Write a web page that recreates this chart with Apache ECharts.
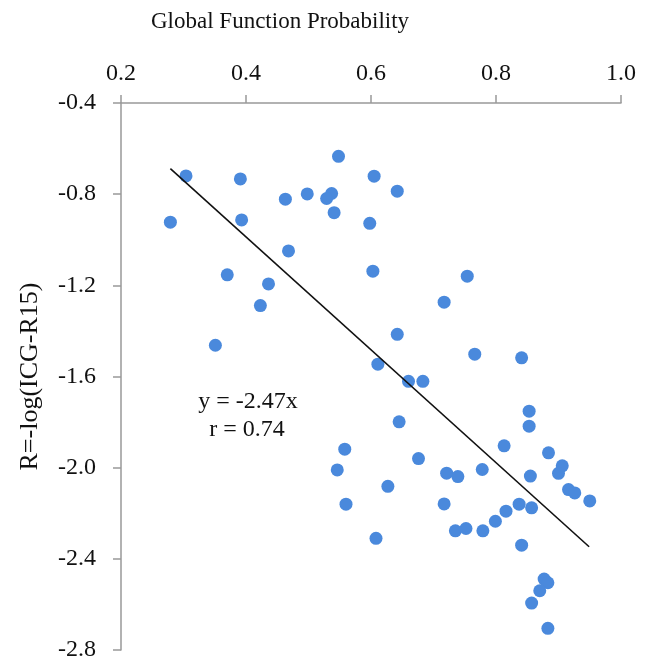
<!DOCTYPE html>
<html>
<head>
<meta charset="utf-8">
<script src="https://cdn.jsdelivr.net/npm/echarts@6/dist/echarts.min.js"></script>
<style>
html,body{margin:0;padding:0;background:#fff;}
#chart{width:653px;height:666px;}
</style>
</head>
<body>
<div id="chart"></div>
<script>
// Global Function Probability (x) vs R=-log(ICG-R15) (y)
var xValues = [0.279,0.304,0.391,0.393,0.370,0.351,0.423,0.436,0.468,0.463,0.498,0.537,0.529,0.541,0.548,0.605,0.598,0.642,0.603,0.717,0.754,0.642,0.766,0.841,0.611,0.660,0.683,0.853,0.645,0.853,0.813,0.884,0.676,0.558,0.546,0.560,0.608,0.627,0.721,0.739,0.778,0.855,0.906,0.900,0.916,0.926,0.950,0.717,0.837,0.857,0.816,0.799,0.735,0.752,0.779,0.841,0.877,0.883,0.870,0.857,0.883];
var yValues = [-0.923,-0.720,-0.733,-0.913,-1.154,-1.463,-1.289,-1.194,-1.049,-0.822,-0.799,-0.797,-0.819,-0.881,-0.634,-0.721,-0.928,-0.787,-1.138,-1.274,-1.160,-1.415,-1.502,-1.518,-1.546,-1.621,-1.621,-1.752,-1.799,-1.818,-1.904,-1.935,-1.960,-1.919,-2.010,-2.160,-2.310,-2.082,-2.024,-2.039,-2.008,-2.037,-1.992,-2.025,-2.096,-2.111,-2.146,-2.159,-2.160,-2.176,-2.191,-2.235,-2.277,-2.267,-2.277,-2.340,-2.489,-2.505,-2.540,-2.594,-2.705];
var trendX = [0.279, 0.949];
var trendY = [-0.688, -2.347];
var xTicks = [0.2, 0.4, 0.6, 0.8, 1.0];
var yTicks = [-0.4, -0.8, -1.2, -1.6, -2.0, -2.4, -2.8];
var xTitle = 'Global Function Probability';
var yTitle = 'R=-log(ICG-R15)';
var eqText = 'y = -2.47x';
var rText = 'r = 0.74';

var points = xValues.map(function(x, i){ return [x, yValues[i]]; });
var trend = trendX.map(function(x, i){ return [x, trendY[i]]; });

var chart = echarts.init(document.getElementById('chart'), null, {renderer:'canvas'});
var font = 'Liberation Serif';
var axisColor = '#999999';
chart.setOption({
  animation: false,
  backgroundColor: '#fff',
  title: {
    text: xTitle,
    left: 146, top: 5,
    textStyle: {fontFamily: font, fontSize: 23, fontWeight: 'normal', color: '#111'}
  },
  grid: {left: 121, right: 32, top: 103, bottom: 16, containLabel: false},
  xAxis: {
    type: 'value', position: 'top',
    min: xTicks[0], max: xTicks[xTicks.length-1], interval: 0.2,
    axisLine: {show: true, lineStyle: {color: axisColor, width: 1.5}},
    axisTick: {show: true, length: 8, lineStyle: {color: axisColor, width: 1.5}},
    splitLine: {show: false},
    axisLabel: {margin: 17, fontFamily: font, fontSize: 24, color: '#111',
      formatter: function(v){ return v.toFixed(1); }}
  },
  yAxis: {
    type: 'value',
    min: yTicks[yTicks.length-1], max: yTicks[0], interval: 0.4,
    name: yTitle, nameLocation: 'middle', nameRotate: 90, nameGap: 78,
    nameTextStyle: {fontFamily: font, fontSize: 26, color: '#111'},
    axisLine: {show: true, lineStyle: {color: axisColor, width: 1.5}},
    axisTick: {show: true, length: 8, lineStyle: {color: axisColor, width: 1.5}},
    splitLine: {show: false},
    axisLabel: {margin: 25, fontFamily: font, fontSize: 24, color: '#111',
      formatter: function(v){ return v.toFixed(1); }}
  },
  series: [
    {
      type: 'scatter', data: points, symbol: 'circle', symbolSize: 13,
      itemStyle: {color: '#4a89dc', opacity: 1}
    },
    {
      type: 'line', data: trend, symbol: 'none',
      lineStyle: {color: '#111', width: 1.6}, z: 3
    }
  ],
  graphic: [
    {type: 'text', x: 248, y: 402, style: {text: eqText, font: '24px "Liberation Serif"', fill: '#111', align: 'center', verticalAlign: 'middle'}},
    {type: 'text', x: 247, y: 430, style: {text: rText, font: '24px "Liberation Serif"', fill: '#111', align: 'center', verticalAlign: 'middle'}}
  ]
});
</script>
</body>
</html>
